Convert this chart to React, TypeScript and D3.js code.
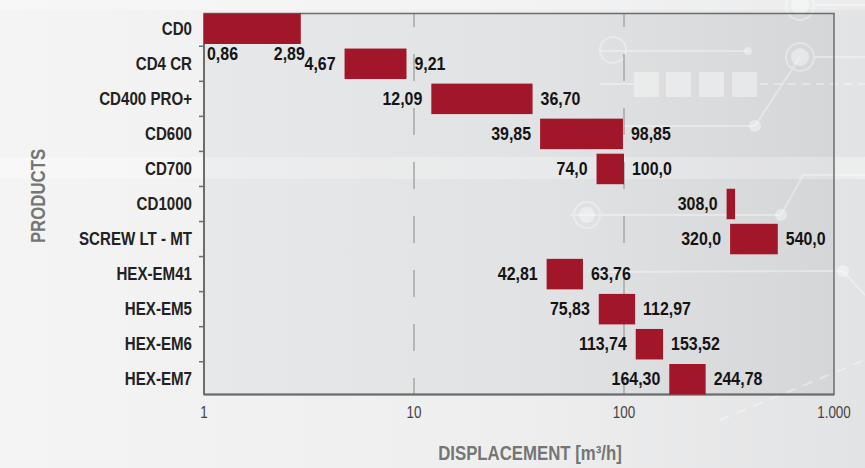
import * as d3 from "d3";

// chart data
const products = [
  "CD0",
  "CD4 CR",
  "CD400 PRO+",
  "CD600",
  "CD700",
  "CD1000",
  "SCREW LT - MT",
  "HEX-EM41",
  "HEX-EM5",
  "HEX-EM6",
  "HEX-EM7",
];
const minValues = [0.86, 4.67, 12.09, 39.85, 74.0, 308.0, 320.0, 42.81, 75.83, 113.74, 164.3];
const maxValues = [2.89, 9.21, 36.7, 98.85, 100.0, 338.0, 540.0, 63.76, 112.97, 153.52, 244.78];
const minLabels = ["0,86", "4,67", "12,09", "39,85", "74,0", "308,0", "320,0", "42,81", "75,83", "113,74", "164,30"];
const maxLabels = ["2,89", "9,21", "36,70", "98,85", "100,0", "", "540,0", "63,76", "112,97", "153,52", "244,78"];
const tickValues = [1, 10, 100, 1000];
const tickLabels = ["1", "10", "100", "1.000"];

const width = 865;
const height = 468;
const margin = { top: 13.5, right: 31, bottom: 73.5, left: 204 };
const font = "'Liberation Sans', Arial, sans-serif";
const barColor = "#a2162a";

// condensed text: horizontal scale around the anchor point
function NText({ x, y, anchor = "start", rotate = 0, sx = 0.84, children, ...rest }: any) {
  return (
    <text
      transform={`translate(${x},${y}) rotate(${rotate}) scale(${sx},1)`}
      textAnchor={anchor}
      dominantBaseline="central"
      {...rest}
    >
      {children}
    </text>
  );
}

export default function App() {
  const x = d3
    .scaleLog()
    .domain([1, 1000])
    .range([margin.left, width - margin.right]);

  const y = d3
    .scaleBand()
    .domain(products)
    .range([margin.top, height - margin.bottom])
    .paddingInner(0.13)
    .paddingOuter(0);

  const plotLeft = margin.left;
  const plotRight = width - margin.right;
  const plotTop = margin.top;
  const plotBottom = height - margin.bottom;
  const step = y.step();

  return (
    <svg
      width={width}
      height={height}
      style={{ position: "absolute", left: 0, top: 0 }}
    >
      <defs>
        <linearGradient id="bg" x1="0" y1="0" x2="1" y2="0">
          <stop offset="0" stopColor="#f4f4f4" />
          <stop offset="0.6" stopColor="#eeeeef" />
          <stop offset="1" stopColor="#e2e3e4" />
        </linearGradient>
        <linearGradient id="plotbg" x1="0" y1="0" x2="1" y2="0">
          <stop offset="0" stopColor="#e7e8e9" />
          <stop offset="0.55" stopColor="#e1e2e3" />
          <stop offset="1" stopColor="#d5d6d8" />
        </linearGradient>
      </defs>

      {/* background */}
      <rect width={width} height={height} fill="url(#bg)" />
      <rect x={0} y={157} width={width} height={22} fill="#ffffff" opacity={0.35} />
      <rect x={0} y={0} width={width} height={10} fill="#ffffff" opacity={0.3} />

      {/* plot area */}
      <rect
        x={plotLeft}
        y={plotTop}
        width={plotRight - plotLeft}
        height={plotBottom - plotTop}
        fill="url(#plotbg)"
      />
      <rect x={plotLeft} y={157} width={plotRight - plotLeft} height={22} fill="#ffffff" opacity={0.25} />

      {/* decorative circuit lines */}
      <g stroke="#ffffff" fill="none" opacity={0.35} strokeWidth={2}>
        <line x1={815} y1={5} x2={865} y2={5} />
        <circle cx={800} cy={6} r={14} />
        <circle cx={800} cy={57} r={14} />
        <line x1={814} y1={57} x2={865} y2={57} />
        <line x1={800} y1={57} x2={755} y2={126} />
        <line x1={620} y1={126} x2={755} y2={126} />
        <line x1={600} y1={51} x2={748} y2={51} />
        <line x1={760} y1={84} x2={865} y2={84} strokeDasharray="8 6" />
        <line x1={600} y1={84} x2={634} y2={84} />
        <line x1={570} y1={215} x2={781} y2={215} />
        <line x1={781} y1={215} x2={803} y2={175} />
        <line x1={803} y1={175} x2={865} y2={175} />
        <line x1={843} y1={271} x2={865} y2={295} />
        <line x1={600} y1={272} x2={843} y2={271} />
        <line x1={720} y1={420} x2={865} y2={360} strokeDasharray="10 8" />
        <circle cx={587} cy={215} r={13} />
        <circle cx={613} cy={50} r={13} />
      </g>
      <g fill="#ffffff" opacity={0.4}>
        <circle cx={800} cy={6} r={9} />
        <circle cx={800} cy={57} r={9} />
        <circle cx={748} cy={51} r={4} />
        <circle cx={755} cy={126} r={6} />
        <circle cx={781} cy={215} r={6} />
        <circle cx={843} cy={271} r={6} />
        <circle cx={587} cy={215} r={8} />
        {[634, 666, 699, 732].map((sx) => (
          <rect key={sx} x={sx} y={72} width={25} height={25} />
        ))}
      </g>

      {/* dashed gridlines */}
      {tickValues
        .filter((t) => t > 1 && t < 1000)
        .map((t) => (
          <line
            key={t}
            x1={x(t)}
            x2={x(t)}
            y1={plotTop}
            y2={plotBottom}
            stroke="#a9aaab"
            strokeWidth={1.6}
            strokeDasharray="27 27"
            strokeDashoffset={plotTop}
          />
        ))}

      {/* frame */}
      <rect
        x={plotLeft}
        y={plotTop}
        width={plotRight - plotLeft}
        height={plotBottom - plotTop}
        fill="none"
        stroke="#6c6c6c"
        strokeWidth={1.5}
      />
      <line x1={plotLeft} x2={plotLeft} y1={plotTop} y2={plotBottom} stroke="#6c6c6c" strokeWidth={2} />
      <line x1={plotLeft} x2={plotRight} y1={plotBottom} y2={plotBottom} stroke="#6c6c6c" strokeWidth={2} />

      {/* category ticks */}
      {products.slice(1).map((p) => (
        <line
          key={p}
          x1={plotLeft - 5}
          x2={plotLeft}
          y1={(y(p) as number) - (step - y.bandwidth()) / 2}
          y2={(y(p) as number) - (step - y.bandwidth()) / 2}
          stroke="#6c6c6c"
          strokeWidth={1.5}
        />
      ))}

      {/* bars */}
      {products.map((p, i) => {
        const x0 = x(Math.max(minValues[i], 1));
        const x1 = x(maxValues[i]);
        return (
          <rect
            key={p}
            x={x0}
            y={y(p)}
            width={x1 - x0}
            height={y.bandwidth()}
            fill={barColor}
          />
        );
      })}

      {/* value labels */}
      <g fontFamily={font} fontWeight="bold" fontSize={18} fill="#141414">
        {products.map((p, i) => {
          const below = minValues[i] < x.domain()[0];
          const yc = (y(p) as number) + y.bandwidth() / 2;
          if (below) {
            const yb = (y(p) as number) + y.bandwidth() + 10;
            return (
              <g key={p}>
                <NText x={x(1) + 3} y={yb} sx={0.885}>
                  {minLabels[i]}
                </NText>
                <NText x={x(maxValues[i]) + 4} y={yb} anchor="end" sx={0.885}>
                  {maxLabels[i]}
                </NText>
              </g>
            );
          }
          return (
            <g key={p}>
              <NText x={x(minValues[i]) - 9} y={yc} anchor="end" sx={0.885}>
                {minLabels[i]}
              </NText>
              {maxLabels[i] && (
                <NText x={x(maxValues[i]) + 8} y={yc} sx={0.885}>
                  {maxLabels[i]}
                </NText>
              )}
            </g>
          );
        })}
      </g>

      {/* category labels */}
      <g fontFamily={font} fontWeight="bold" fontSize={18} fill="#222222">
        {products.map((p) => (
          <NText key={p} x={plotLeft - 12} y={(y(p) as number) + y.bandwidth() / 2} anchor="end">
            {p}
          </NText>
        ))}
      </g>

      {/* x tick labels */}
      <g fontFamily={font} fontSize={16} fill="#444444">
        {tickValues.map((t, i) => (
          <NText key={t} x={x(t)} y={plotBottom + 18} anchor="middle">
            {tickLabels[i]}
          </NText>
        ))}
      </g>

      {/* axis titles */}
      <g fontFamily={font} fontWeight="bold" fontSize={20} fill="#757575">
        <NText x={530} y={453} anchor="middle">
          DISPLACEMENT [m³/h]
        </NText>
        <NText x={38} y={196} anchor="middle" rotate={-90}>
          PRODUCTS
        </NText>
      </g>
    </svg>
  );
}
